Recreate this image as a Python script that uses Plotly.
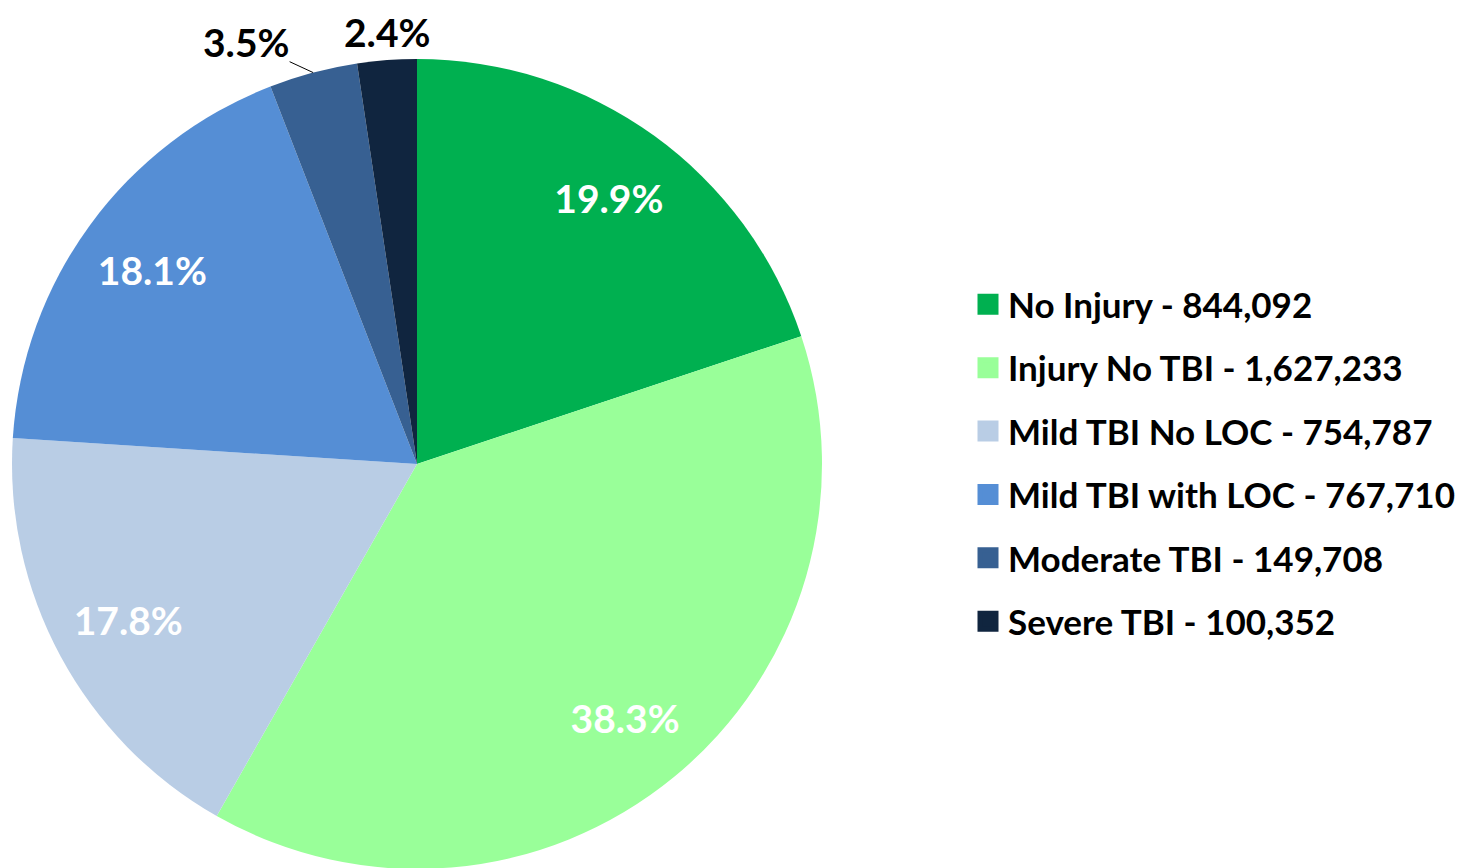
import math
import plotly.graph_objects as go

categories = ["No Injury", "Injury No TBI", "Mild TBI No LOC", "Mild TBI with LOC", "Moderate TBI", "Severe TBI"]
counts = [844092, 1627233, 754787, 767710, 149708, 100352]
colors = ["#00B050", "#99FF99", "#B9CDE5", "#558ED5", "#376092", "#10253F"]
inside_pos = ["inside", "inside", "inside", "inside", "none", "none"]
# small slices labelled outside the pie: (index, arrow offset px, draw leader)
outside_labels = [(4, (-67, -31), True), (5, (0, 0), False)]

FONT = "Lato"
FS_LEG = 35
FS_LBL = 39
W, H = 1473, 868

dom_x = [4 / W, 814 / W]
dom_y = [7 / H, 817 / H]

fig = go.Figure()

# main pie (colours only)
fig.add_trace(go.Pie(
    labels=categories, values=counts, sort=False, direction="clockwise",
    marker=dict(colors=colors, line=dict(width=0)),
    textinfo="none", showlegend=False, domain=dict(x=dom_x, y=dom_y),
    hoverinfo="label+value+percent",
))

# transparent ring carrying the inside percentage labels
fig.add_trace(go.Pie(
    labels=categories, values=counts, sort=False, direction="clockwise",
    hole=0.62, marker=dict(colors=["rgba(0,0,0,0)"] * len(categories), line=dict(width=0)),
    texttemplate="%{percent:.1%}", textposition=inside_pos,
    insidetextorientation="horizontal",
    insidetextfont=dict(family=FONT, size=FS_LBL, color="white", weight="bold"),
    showlegend=False, domain=dict(x=dom_x, y=dom_y), hoverinfo="skip",
))

# outside labels for the small slices, placed at each slice's mid-angle on the rim
total = sum(counts)
cx = (dom_x[0] + dom_x[1]) / 2
cy = (dom_y[0] + dom_y[1]) / 2
r_px = min((dom_x[1] - dom_x[0]) * W, (dom_y[1] - dom_y[0]) * H) / 2
annotations = []
for idx, (ax, ay), leader in outside_labels:
    mid = (sum(counts[:idx]) + counts[idx] / 2) / total
    th = 2 * math.pi * mid
    px = cx + r_px * math.sin(th) / W
    py = cy + r_px * math.cos(th) / H
    txt = f"{counts[idx] / total:.1%}"
    if leader:
        annotations.append(dict(
            x=px, y=py, xref="paper", yref="paper", text=txt,
            showarrow=True, arrowhead=0, arrowwidth=1, arrowcolor="black",
            ax=ax, ay=ay, standoff=0, borderpad=0,
            font=dict(family=FONT, size=FS_LBL, color="black", weight="bold"),
        ))
    else:
        annotations.append(dict(
            x=px, y=py, xref="paper", yref="paper", text=txt,
            showarrow=False, xanchor="center", yanchor="bottom", yshift=4, borderpad=0,
            font=dict(family=FONT, size=FS_LBL, color="black", weight="bold"),
        ))

# legend entries
for cat, cnt, col in zip(categories, counts, colors):
    fig.add_trace(go.Scatter(
        x=[None], y=[None], mode="markers", name=f"{cat} - {cnt:,}",
        legendgroup=cat,
        marker=dict(symbol="square", size=16, color=col, line=dict(color=col, width=7)),
    ))

fig.update_layout(
    width=W, height=H,
    margin=dict(l=0, r=0, t=0, b=0, autoexpand=False),
    paper_bgcolor="white", plot_bgcolor="white",
    xaxis=dict(visible=False), yaxis=dict(visible=False),
    font=dict(family=FONT, color="black"),
    annotations=annotations,
    legend=dict(
        x=960 / W, xanchor="left", y=413 / H, yanchor="middle",
        font=dict(family=FONT, size=FS_LEG, color="black", weight="bold"),
        tracegroupgap=14.9, itemwidth=30,
        bgcolor="rgba(0,0,0,0)",
    ),
)

fig.write_html("out.html")
